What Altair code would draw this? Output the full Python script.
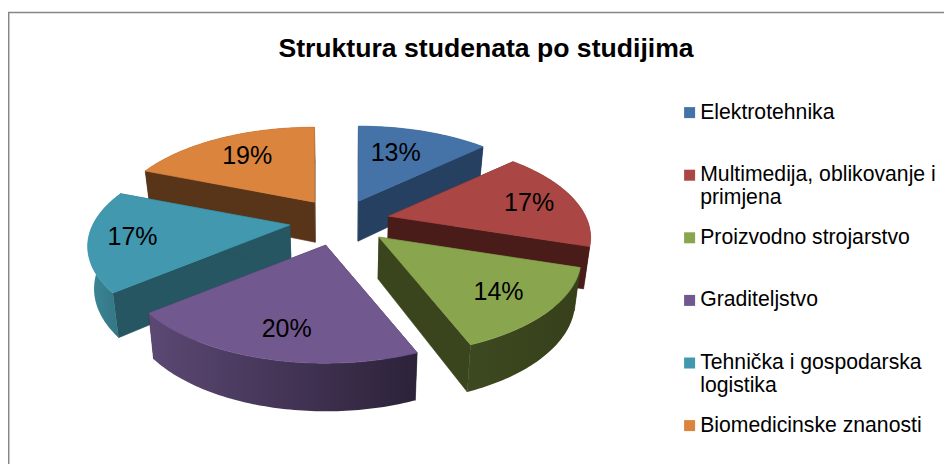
import math
import altair as alt
import pandas as pd

TITLE = "Struktura studenata po studijima"
categories = ["Elektrotehnika", "Multimedija, oblikovanje i primjena", "Proizvodno strojarstvo",
              "Graditeljstvo", "Tehnička i gospodarska logistika", "Biomedicinske znanosti"]
shares = [13, 17, 14, 20, 17, 19]
top_colors = ["#4572A7", "#AA4643", "#89A54E", "#71588F", "#4198AF", "#DB843D"]
edge_colors = ["#254061", "#4A1C19", "#3A451E", "#3A2C4C", "#255661", "#583419"]
arc_left = ["#254061", "#4A1C19", "#3D4920", "#5C4874", "#3C8799", "#583419"]
arc_right = ["#254061", "#4A1C19", "#36401B", "#2C2239", "#32727F", "#583419"]
explode = [56, 50, 43, 42, 52, 58]
shift_x = [-2, 0, 0, -3, 1, 0]
label_radius = [0.68, 0.76, 0.72, 0.73, 0.78, 0.72]
label_turn = [0.42, 0.52, 0.53, 0.47, 0.5, 0.5]
paint_order = [5, 0, 4, 1, 2, 3]

# pie projection parameters (3-D look)
CX, CY, R, K, A = 342, 221, 197, 0.223, 91.7


def project(t, r):
    u, s = math.cos(t), math.sin(t)
    d = 1 + K * u
    return r * s / d, -A * (r / R) * u / d


def at(apex, t, r=R):
    dx, dy = project(t, r)
    return apex[0] + dx, apex[1] + dy


def drop(p):
    return CX + (p[0] - CX) * 0.975, p[1] + 40 + 0.05 * (p[1] - 200)


X = alt.X("x:Q", scale=alt.Scale(domain=[8, 944], nice=False, zero=False), axis=None)
Y = alt.Y("y:Q", scale=alt.Scale(domain=[464, 8], nice=False, zero=False), axis=None)


def frame(points):
    pts = points + points[:1]
    return pd.DataFrame([dict(seq=n, x=x, y=y) for n, (x, y) in enumerate(pts)])


wall_layers, tops, labels = [], [], []
acc = 0.0
geometry = {}
for i, v in enumerate(shares):
    start = math.radians(acc * 3.6)
    end = math.radians((acc + v) * 3.6)
    dx, dy = project((start + end) / 2, explode[i])
    geometry[i] = (start, end, (CX + dx + shift_x[i], CY + dy))
    acc += v

for idx in paint_order:
    t0, t1, a = geometry[idx]
    for t in (t0, t1):
        p = at(a, t)
        wall_layers.append(
            alt.Chart(frame([a, p, drop(p), drop(a)])).mark_line(
                fill=edge_colors[idx], stroke=edge_colors[idx], strokeWidth=0.6
            ).encode(x=X, y=Y, order="seq:Q")
        )
    steps = max(2, int(math.degrees(t1 - t0)))
    arc_pts = [at(a, t0 + (t1 - t0) * j / steps) for j in range(steps + 1)]
    gradient = alt.Gradient(
        gradient="linear", x1=0, x2=1, y1=0, y2=0,
        stops=[alt.GradientStop(color=arc_left[idx], offset=0),
               alt.GradientStop(color=arc_right[idx], offset=1)],
    )
    wall_layers.append(
        alt.Chart(frame(arc_pts + [drop(p) for p in reversed(arc_pts)])).mark_line(
            fill=gradient, stroke=None, strokeWidth=0
        ).encode(x=X, y=Y, order="seq:Q")
    )
    pts = [a] + arc_pts + [a]
    for n, (x, y) in enumerate(pts):
        tops.append(dict(poly=idx, seq=n, x=x, y=y, category=categories[idx]))
    mid = t0 + (t1 - t0) * label_turn[idx]
    lx, ly = at(a, mid, R * label_radius[idx])
    labels.append(dict(x=lx, y=ly, text=f"{shares[idx]}%"))

label_expr = (
    "datum.label=='Multimedija, oblikovanje i primjena'?['Multimedija, oblikovanje i','primjena']:"
    "datum.label=='Tehnička i gospodarska logistika'?['Tehnička i gospodarska','logistika']:"
    "[datum.label,'']"
)

top_layer = alt.Chart(pd.DataFrame(tops)).mark_line(strokeWidth=0.7).encode(
    x=X, y=Y, detail="poly:N", order="seq:Q",
    fill=alt.Fill("category:N", scale=alt.Scale(domain=categories, range=top_colors),
                  sort=categories,
                  legend=alt.Legend(title=None, orient="none", legendX=671, legendY=94,
                                    symbolType="square", symbolSize=121, symbolStrokeWidth=0,
                                    labelFont="Liberation Sans", labelFontSize=21.2, labelColor="#000000",
                                    labelLimit=300, labelOffset=0, rowPadding=17.6, labelExpr=label_expr,
                                    padding=0)),
    stroke=alt.Stroke("category:N", scale=alt.Scale(domain=categories, range=top_colors), legend=None),
)
label_layer = alt.Chart(pd.DataFrame(labels)).mark_text(
    font="Liberation Sans", fontSize=25, color="#000000", align="center", baseline="middle"
).encode(x=X, y=Y, text="text:N")

frame_left = alt.Chart(pd.DataFrame({"a": [0]})).mark_rule(color="#868686", strokeWidth=1.5).encode(
    x=alt.value(0.7), y=alt.value(4), y2=alt.value(456))
frame_top = alt.Chart(pd.DataFrame({"a": [0]})).mark_rule(color="#868686", strokeWidth=1.5).encode(
    y=alt.value(4.5), x=alt.value(0), x2=alt.value(936))

chart = alt.layer(frame_left, frame_top, *wall_layers, top_layer, label_layer).properties(
    width=936, height=456, padding=0, autosize=alt.AutoSizeParams(type="none"),
    background="#ffffff",
    title=alt.TitleParams(TITLE, font="Liberation Sans", fontSize=26.6, fontWeight="bold", color="#000000",
                          anchor="middle", frame="group", dx=10, dy=68, baseline="middle", offset=0),
).configure_view(stroke=None)

chart.save("out.html", embed_options={"renderer": "svg", "actions": False})
